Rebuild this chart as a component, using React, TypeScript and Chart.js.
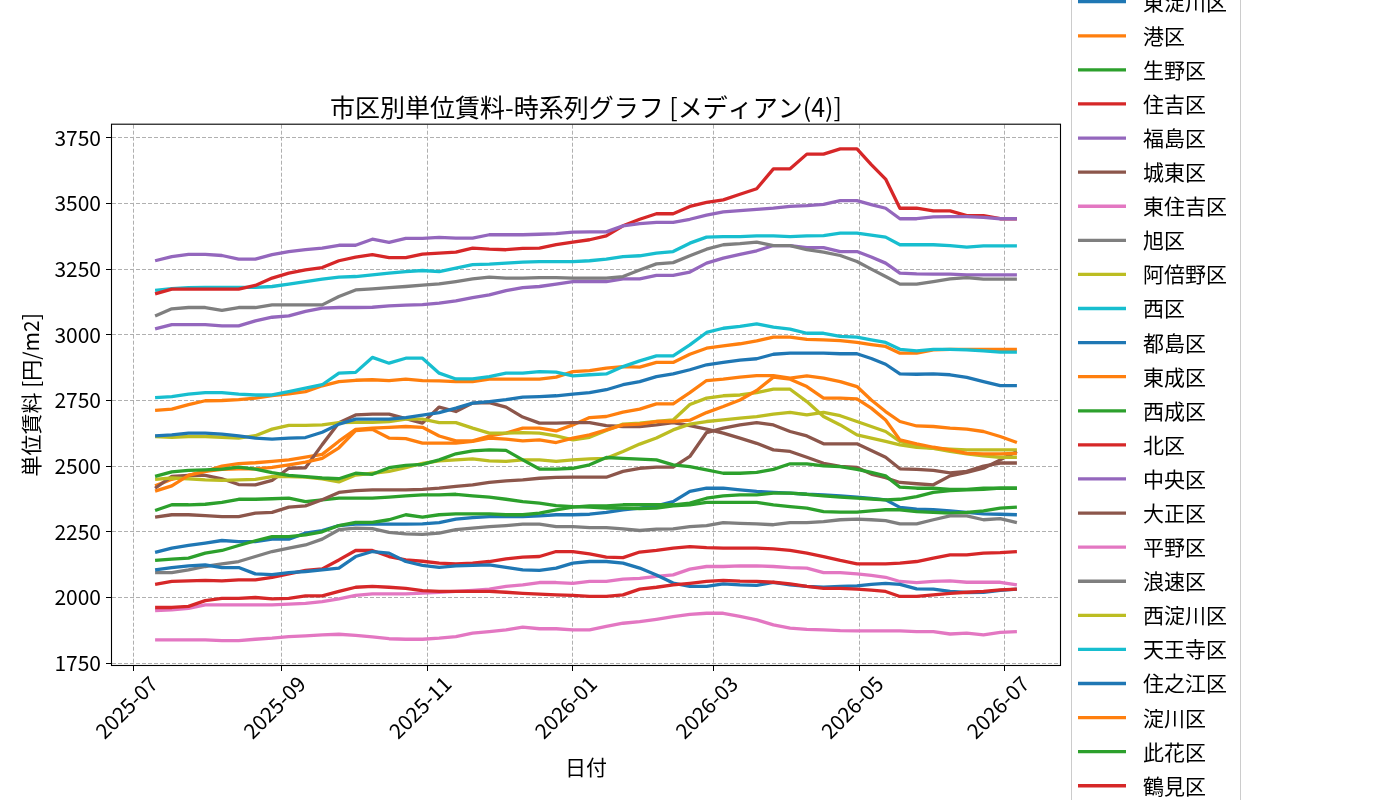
import React, { useEffect, useRef } from 'react';
import { Chart, registerables } from 'chart.js';

Chart.register(...registerables);

const FONT = '"Noto Sans CJK JP", "Noto Sans", sans-serif';

const chartTitle = '市区別単位賃料-時系列グラフ [メディアン(4)]';
const xTitle = '日付';
const yTitle = '単位賃料 [円/m2]';

const dates = [
  '2025-07-10', '2025-07-17', '2025-07-24', '2025-07-31', '2025-08-07', '2025-08-14', '2025-08-21', '2025-08-28',
  '2025-09-04', '2025-09-11', '2025-09-18', '2025-09-25', '2025-10-02', '2025-10-09', '2025-10-16', '2025-10-23',
  '2025-10-30', '2025-11-06', '2025-11-13', '2025-11-20', '2025-11-27', '2025-12-04', '2025-12-11', '2025-12-18',
  '2025-12-25', '2026-01-01', '2026-01-08', '2026-01-15', '2026-01-22', '2026-01-29', '2026-02-05', '2026-02-12',
  '2026-02-19', '2026-02-26', '2026-03-05', '2026-03-12', '2026-03-19', '2026-03-26', '2026-04-02', '2026-04-09',
  '2026-04-16', '2026-04-23', '2026-04-30', '2026-05-06', '2026-05-12', '2026-05-18', '2026-05-25', '2026-06-01',
  '2026-06-08', '2026-06-15', '2026-06-22', '2026-06-29', '2026-07-06',
];

const xTickLabels = ['2025-07', '2025-09', '2025-11', '2026-01', '2026-03', '2026-05', '2026-07'];
const yTickValues = [1750, 2000, 2250, 2500, 2750, 3000, 3250, 3500, 3750];

const wards = [
  '東淀川区', '港区', '生野区', '住吉区', '福島区', '城東区', '東住吉区', '旭区',
  '阿倍野区', '西区', '都島区', '東成区', '西成区', '北区', '中央区', '大正区',
  '平野区', '浪速区', '西淀川区', '天王寺区', '住之江区', '淀川区', '此花区', '鶴見区',
];

const colors = [
  '#1f77b4', '#ff7f0e', '#2ca02c', '#d62728', '#9467bd', '#8c564b', '#e377c2', '#7f7f7f',
  '#bcbd22', '#17becf', '#1f77b4', '#ff7f0e', '#2ca02c', '#d62728', '#9467bd', '#8c564b',
  '#e377c2', '#7f7f7f', '#bcbd22', '#17becf', '#1f77b4', '#ff7f0e', '#2ca02c', '#d62728',
];

const higashiyodogawa = [2172, 2188, 2198, 2207, 2217, 2213, 2213, 2222, 2222, 2245, 2255, 2274, 2279, 2279, 2279, 2279, 2280, 2285, 2298, 2304, 2308, 2308, 2308, 2311, 2315, 2315, 2317, 2324, 2334, 2340, 2349, 2365, 2404, 2416, 2416, 2410, 2404, 2400, 2397, 2393, 2391, 2387, 2382, 2377, 2372, 2343, 2336, 2334, 2330, 2324, 2318, 2317, 2315];
const minato = [2425, 2450, 2465, 2480, 2500, 2510, 2513, 2518, 2524, 2534, 2545, 2595, 2640, 2645, 2648, 2651, 2648, 2615, 2596, 2596, 2615, 2626, 2645, 2645, 2634, 2657, 2685, 2689, 2706, 2717, 2737, 2737, 2780, 2826, 2831, 2839, 2845, 2845, 2835, 2844, 2835, 2822, 2803, 2752, 2708, 2670, 2653, 2651, 2645, 2641, 2632, 2613, 2590];
const ikuno = [2331, 2353, 2353, 2355, 2362, 2374, 2374, 2376, 2378, 2365, 2372, 2378, 2378, 2378, 2382, 2387, 2391, 2391, 2393, 2387, 2382, 2374, 2365, 2359, 2350, 2346, 2344, 2340, 2340, 2338, 2340, 2349, 2353, 2362, 2362, 2362, 2362, 2353, 2346, 2340, 2327, 2325, 2325, 2330, 2334, 2334, 2327, 2324, 2321, 2324, 2330, 2340, 2344];
const sumiyoshi = [2050, 2061, 2063, 2065, 2063, 2067, 2067, 2077, 2090, 2103, 2109, 2143, 2179, 2179, 2156, 2143, 2138, 2131, 2128, 2131, 2137, 2147, 2154, 2156, 2175, 2175, 2166, 2154, 2152, 2173, 2179, 2188, 2194, 2190, 2188, 2188, 2188, 2185, 2179, 2169, 2156, 2141, 2128, 2128, 2128, 2131, 2137, 2150, 2162, 2162, 2169, 2171, 2175];
const fukushima = [3023, 3039, 3039, 3039, 3034, 3034, 3053, 3067, 3072, 3089, 3102, 3104, 3104, 3105, 3110, 3113, 3115, 3121, 3129, 3142, 3152, 3168, 3180, 3184, 3193, 3203, 3203, 3203, 3213, 3213, 3226, 3226, 3239, 3273, 3292, 3306, 3320, 3340, 3340, 3332, 3332, 3317, 3317, 3296, 3273, 3235, 3232, 3231, 3231, 3228, 3228, 3228, 3228];
const joto = [2416, 2461, 2465, 2465, 2452, 2430, 2429, 2446, 2492, 2494, 2582, 2665, 2695, 2698, 2698, 2681, 2664, 2725, 2708, 2740, 2742, 2725, 2687, 2664, 2664, 2666, 2666, 2654, 2651, 2651, 2657, 2666, 2654, 2641, 2626, 2607, 2587, 2562, 2556, 2534, 2511, 2499, 2495, 2470, 2456, 2438, 2433, 2429, 2463, 2476, 2492, 2524, 2556];
const higashisumiyoshi = [1950, 1953, 1959, 1972, 1972, 1972, 1972, 1972, 1975, 1978, 1984, 1995, 2008, 2014, 2014, 2014, 2017, 2020, 2023, 2027, 2032, 2042, 2048, 2057, 2057, 2054, 2061, 2061, 2070, 2073, 2080, 2086, 2108, 2118, 2118, 2120, 2120, 2118, 2114, 2112, 2095, 2095, 2090, 2084, 2077, 2061, 2057, 2061, 2063, 2058, 2058, 2058, 2048];
const asahi = [2095, 2095, 2105, 2118, 2128, 2137, 2156, 2175, 2188, 2200, 2222, 2258, 2264, 2262, 2248, 2242, 2240, 2245, 2258, 2264, 2270, 2274, 2279, 2279, 2270, 2270, 2266, 2266, 2261, 2255, 2260, 2261, 2270, 2274, 2285, 2282, 2280, 2277, 2285, 2285, 2289, 2296, 2298, 2296, 2293, 2280, 2280, 2296, 2311, 2311, 2296, 2300, 2285];
const abeno = [2613, 2610, 2613, 2613, 2610, 2607, 2616, 2641, 2655, 2655, 2657, 2666, 2667, 2667, 2670, 2679, 2679, 2666, 2666, 2645, 2626, 2626, 2628, 2626, 2615, 2600, 2610, 2636, 2660, 2664, 2670, 2676, 2735, 2759, 2768, 2771, 2780, 2793, 2793, 2746, 2689, 2657, 2619, 2607, 2594, 2581, 2572, 2568, 2565, 2562, 2562, 2562, 2562];
const nishi = [3169, 3176, 3180, 3181, 3181, 3181, 3181, 3184, 3193, 3203, 3212, 3220, 3222, 3228, 3235, 3241, 3245, 3241, 3254, 3267, 3269, 3273, 3277, 3279, 3279, 3279, 3282, 3288, 3298, 3301, 3311, 3317, 3349, 3372, 3374, 3374, 3377, 3377, 3374, 3377, 3378, 3387, 3387, 3380, 3372, 3343, 3343, 3343, 3340, 3334, 3339, 3339, 3339];
const miyakojima = [2615, 2619, 2626, 2626, 2622, 2615, 2607, 2603, 2607, 2609, 2629, 2660, 2679, 2679, 2679, 2685, 2694, 2704, 2721, 2740, 2746, 2753, 2763, 2765, 2768, 2774, 2780, 2791, 2810, 2822, 2841, 2851, 2867, 2886, 2895, 2904, 2909, 2926, 2930, 2930, 2930, 2928, 2928, 2910, 2888, 2851, 2850, 2851, 2848, 2838, 2822, 2807, 2807];
const higashinari = [2712, 2717, 2734, 2749, 2750, 2753, 2759, 2769, 2775, 2784, 2806, 2822, 2827, 2829, 2826, 2831, 2826, 2825, 2822, 2822, 2831, 2831, 2831, 2831, 2839, 2860, 2864, 2873, 2879, 2877, 2895, 2895, 2926, 2949, 2958, 2966, 2977, 2991, 2991, 2983, 2981, 2978, 2971, 2963, 2956, 2930, 2930, 2943, 2945, 2945, 2945, 2945, 2945];
const nishinari = [2141, 2146, 2150, 2169, 2179, 2198, 2216, 2232, 2232, 2238, 2250, 2274, 2286, 2286, 2296, 2315, 2306, 2315, 2318, 2318, 2318, 2315, 2315, 2321, 2334, 2344, 2349, 2349, 2353, 2353, 2353, 2353, 2359, 2378, 2387, 2391, 2391, 2397, 2397, 2393, 2387, 2382, 2378, 2375, 2372, 2374, 2384, 2400, 2407, 2410, 2412, 2416, 2416];
const kita = [3156, 3174, 3174, 3174, 3174, 3174, 3188, 3216, 3235, 3247, 3256, 3282, 3296, 3305, 3294, 3294, 3307, 3311, 3315, 3330, 3326, 3324, 3329, 3330, 3343, 3353, 3362, 3377, 3415, 3440, 3461, 3461, 3489, 3504, 3514, 3535, 3556, 3632, 3632, 3688, 3688, 3708, 3708, 3648, 3593, 3482, 3482, 3472, 3472, 3454, 3454, 3442, 3442];
const chuo = [3282, 3298, 3306, 3306, 3302, 3288, 3288, 3305, 3317, 3324, 3330, 3341, 3341, 3364, 3352, 3367, 3367, 3371, 3368, 3368, 3381, 3381, 3381, 3383, 3385, 3391, 3392, 3392, 3415, 3423, 3428, 3428, 3440, 3456, 3468, 3473, 3478, 3482, 3489, 3492, 3497, 3511, 3511, 3496, 3482, 3442, 3442, 3449, 3450, 3450, 3447, 3442, 3442];
const taisho = [2306, 2315, 2315, 2312, 2308, 2308, 2321, 2324, 2344, 2349, 2372, 2400, 2407, 2410, 2410, 2410, 2412, 2416, 2423, 2429, 2438, 2444, 2448, 2454, 2457, 2458, 2458, 2458, 2480, 2492, 2496, 2496, 2537, 2628, 2645, 2657, 2666, 2657, 2632, 2615, 2585, 2585, 2585, 2560, 2534, 2490, 2488, 2484, 2474, 2480, 2500, 2512, 2512];
const hirano = [1839, 1839, 1839, 1839, 1836, 1836, 1841, 1845, 1851, 1854, 1858, 1860, 1856, 1850, 1843, 1841, 1841, 1845, 1851, 1864, 1870, 1877, 1887, 1881, 1881, 1877, 1877, 1890, 1902, 1908, 1917, 1927, 1936, 1940, 1940, 1928, 1915, 1896, 1883, 1879, 1877, 1874, 1873, 1873, 1873, 1873, 1870, 1870, 1861, 1864, 1858, 1867, 1870];
const naniwa = [3072, 3099, 3104, 3104, 3093, 3104, 3104, 3114, 3114, 3114, 3114, 3146, 3171, 3175, 3180, 3184, 3189, 3194, 3203, 3213, 3220, 3216, 3216, 3218, 3218, 3216, 3216, 3216, 3222, 3247, 3270, 3275, 3301, 3326, 3343, 3347, 3353, 3340, 3340, 3324, 3315, 3302, 3279, 3250, 3222, 3193, 3193, 3203, 3213, 3218, 3212, 3212, 3212];
const nishiyodogawa = [2450, 2455, 2452, 2448, 2446, 2448, 2450, 2460, 2460, 2458, 2452, 2440, 2466, 2473, 2480, 2494, 2511, 2520, 2524, 2528, 2520, 2518, 2524, 2524, 2518, 2524, 2528, 2530, 2556, 2584, 2607, 2638, 2660, 2670, 2676, 2683, 2689, 2698, 2705, 2695, 2705, 2692, 2670, 2651, 2632, 2594, 2577, 2568, 2556, 2547, 2539, 2534, 2534];
const tennoji = [2761, 2765, 2774, 2780, 2780, 2774, 2771, 2771, 2784, 2797, 2810, 2854, 2857, 2914, 2892, 2911, 2911, 2854, 2832, 2832, 2841, 2854, 2854, 2860, 2858, 2844, 2848, 2851, 2879, 2901, 2920, 2920, 2962, 3009, 3025, 3032, 3042, 3029, 3022, 3006, 3006, 2994, 2991, 2981, 2971, 2945, 2939, 2945, 2945, 2943, 2939, 2934, 2934];
const suminoe = [2105, 2114, 2120, 2124, 2114, 2114, 2090, 2087, 2095, 2099, 2105, 2112, 2156, 2175, 2169, 2137, 2122, 2115, 2120, 2122, 2124, 2115, 2105, 2103, 2112, 2131, 2137, 2137, 2131, 2112, 2086, 2055, 2042, 2042, 2052, 2048, 2046, 2058, 2048, 2042, 2039, 2042, 2044, 2050, 2054, 2050, 2033, 2032, 2023, 2019, 2020, 2027, 2032];
const yodogawa = [2405, 2425, 2465, 2480, 2488, 2490, 2490, 2495, 2505, 2515, 2530, 2570, 2635, 2640, 2607, 2605, 2588, 2588, 2588, 2594, 2607, 2603, 2596, 2600, 2590, 2607, 2619, 2638, 2657, 2660, 2670, 2670, 2675, 2704, 2727, 2752, 2788, 2839, 2831, 2803, 2759, 2759, 2756, 2721, 2676, 2600, 2585, 2572, 2562, 2549, 2547, 2547, 2549];
const konohana = [2461, 2478, 2484, 2486, 2489, 2496, 2489, 2475, 2465, 2460, 2455, 2452, 2473, 2469, 2494, 2503, 2507, 2524, 2547, 2558, 2562, 2560, 2524, 2489, 2489, 2492, 2505, 2533, 2530, 2527, 2524, 2505, 2498, 2486, 2473, 2473, 2476, 2488, 2509, 2509, 2501, 2498, 2488, 2476, 2463, 2420, 2416, 2416, 2412, 2412, 2416, 2416, 2416];
const tsurumi = [1962, 1962, 1966, 1988, 1997, 1997, 2000, 1995, 1997, 2006, 2006, 2023, 2039, 2042, 2039, 2035, 2026, 2023, 2023, 2023, 2023, 2020, 2016, 2013, 2010, 2008, 2004, 2004, 2010, 2032, 2039, 2048, 2054, 2061, 2065, 2062, 2061, 2058, 2052, 2042, 2035, 2035, 2032, 2028, 2023, 2004, 2004, 2010, 2016, 2020, 2023, 2029, 2032];

const seriesValues = [
  higashiyodogawa, minato, ikuno, sumiyoshi, fukushima, joto, higashisumiyoshi, asahi,
  abeno, nishi, miyakojima, higashinari, nishinari, kita, chuo, taisho,
  hirano, naniwa, nishiyodogawa, tennoji, suminoe, yodogawa, konohana, tsurumi,
];

const BASE = Date.UTC(2025, 6, 1);
const dayOf = (s: string) => {
  const [y, m, d] = s.split('-').map(Number);
  return (Date.UTC(y, m - 1, d) - BASE) / 86400000;
};
const xTickDays = xTickLabels.map((l) => dayOf(l + '-01'));

const frameAndLegend = {
  id: 'frameAndLegend',
  afterDatasetsDraw(chart: any) {
    const { ctx, chartArea } = chart;
    ctx.save();
    ctx.strokeStyle = '#000';
    ctx.lineWidth = 1.1;
    ctx.strokeRect(chartArea.left - 0.5, chartArea.top - 0.5, chartArea.right - chartArea.left + 1, chartArea.bottom - chartArea.top + 1);
    ctx.restore();
  },
  afterDraw(chart: any) {
    const { ctx } = chart;
    const datasets = chart.data.datasets;
    ctx.save();
    const bx0 = 1071.5, bx1 = 1240.5, by0 = -30, by1 = 830, r = 4;
    ctx.beginPath();
    ctx.moveTo(bx0 + r, by0);
    ctx.lineTo(bx1 - r, by0);
    ctx.quadraticCurveTo(bx1, by0, bx1, by0 + r);
    ctx.lineTo(bx1, by1 - r);
    ctx.quadraticCurveTo(bx1, by1, bx1 - r, by1);
    ctx.lineTo(bx0 + r, by1);
    ctx.quadraticCurveTo(bx0, by1, bx0, by1 - r);
    ctx.lineTo(bx0, by0 + r);
    ctx.quadraticCurveTo(bx0, by0, bx0 + r, by0);
    ctx.closePath();
    ctx.fillStyle = 'rgba(255,255,255,0.8)';
    ctx.fill();
    ctx.strokeStyle = '#cccccc';
    ctx.lineWidth = 1;
    ctx.stroke();
    ctx.font = `21px ${FONT}`;
    ctx.textBaseline = 'middle';
    ctx.textAlign = 'left';
    datasets.forEach((ds: any, i: number) => {
      const y = 1.7 + i * 34.09;
      ctx.strokeStyle = ds.borderColor;
      ctx.lineWidth = 3.3;
      ctx.lineCap = 'butt';
      ctx.beginPath();
      ctx.moveTo(1078, y);
      ctx.lineTo(1126, y);
      ctx.stroke();
      ctx.fillStyle = '#000';
      ctx.fillText(ds.label, 1143, y);
    });
    ctx.restore();
  },
};

export default function App() {
  const canvasRef = useRef<HTMLCanvasElement | null>(null);

  useEffect(() => {
    const canvas = canvasRef.current;
    if (!canvas) return;
    Chart.defaults.font.family = FONT;
    Chart.defaults.color = '#000';

    const datasets = wards.map((label, k) => ({
      label,
      data: seriesValues[k].map((v, i) => ({ x: dayOf(dates[i]), y: v })),
      borderColor: colors[k],
      backgroundColor: colors[k],
      borderWidth: 3.3,
      pointRadius: 0,
      pointHoverRadius: 0,
      tension: 0,
      fill: false,
      borderJoinStyle: 'round' as const,
      borderCapStyle: 'butt' as const,
      order: wards.length - k,
    }));

    const gridCommon = {
      color: '#b0b0b0',
      lineWidth: 1,
      drawTicks: true,
      tickLength: 6,
      tickColor: '#000',
      tickWidth: 1,
    };

    const chart = new Chart(canvas, {
      type: 'line',
      data: { datasets },
      options: {
        responsive: false,
        animation: false,
        layout: { padding: { left: 0, right: 340, top: 92, bottom: 0 } },
        plugins: {
          legend: { display: false },
          tooltip: { enabled: false },
          title: {
            display: true,
            text: chartTitle,
            fullSize: false,
            color: '#000',
            font: { size: 25, weight: 'normal', family: FONT },
            padding: { top: 0.3, bottom: 2.4 },
          },
        },
        scales: {
          x: {
            type: 'linear',
            min: -9.05,
            max: 388.05,
            afterBuildTicks: (scale: any) => {
              scale.ticks = xTickDays.map((v) => ({ value: v }));
            },
            afterFit: (scale: any) => {
              scale.height = 135;
            },
            ticks: {
              autoSkip: false,
              minRotation: 45,
              maxRotation: 45,
              labelOffset: 20,
              padding: 0,
              color: '#000',
              font: { size: 21, family: FONT },
              callback: (_v: any, index: number) => xTickLabels[index],
            },
            grid: gridCommon,
            border: { display: false, dash: [4, 2] },
            title: {
              display: true,
              text: xTitle,
              color: '#000',
              font: { size: 21, family: FONT },
              padding: { top: 0, bottom: 20 },
            },
          },
          y: {
            type: 'linear',
            min: 1743,
            max: 3800,
            afterBuildTicks: (scale: any) => {
              scale.ticks = yTickValues.map((v) => ({ value: v }));
            },
            afterFit: (scale: any) => {
              scale.width = 112;
            },
            ticks: {
              padding: 5,
              color: '#000',
              font: { size: 21, family: FONT },
              callback: (v: any) => String(v),
            },
            grid: gridCommon,
            border: { display: false, dash: [4, 2] },
            title: {
              display: true,
              text: yTitle,
              color: '#000',
              font: { size: 21, family: FONT },
              padding: { top: 18, bottom: 0 },
            },
          },
        },
      },
      plugins: [frameAndLegend],
    } as any);

    return () => chart.destroy();
  }, []);

  return (
    <div style={{ position: 'fixed', left: 0, top: 0, width: 1400, height: 800, background: '#fff' }}>
      <canvas ref={canvasRef} width={1400} height={800} style={{ display: 'block' }} />
    </div>
  );
}
